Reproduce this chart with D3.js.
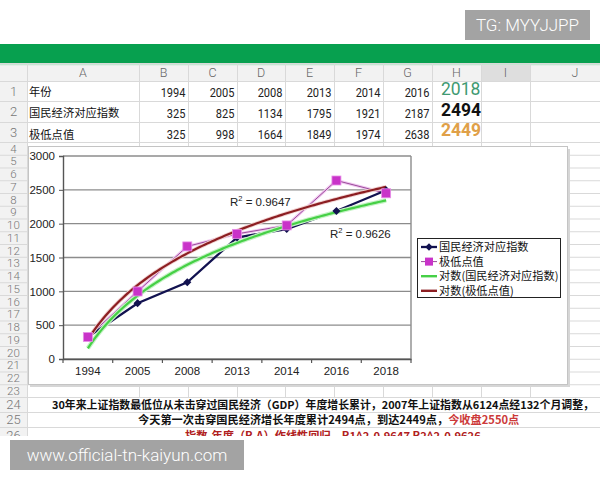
<!DOCTYPE html>
<html><head><meta charset="utf-8">
<script src="https://cdn.jsdelivr.net/npm/d3@7"></script>
<style>body{margin:0;background:#fff}svg{display:block}</style>
</head><body><svg id="c" width="600" height="480"></svg>
<script>
// ---------- data ----------
const years = ["1994","2005","2008","2013","2014","2016","2018"];
const gdpIndex = [325, 825, 1134, 1795, 1921, 2187, 2494];
const lowPoints = [325, 998, 1664, 1849, 1974, 2638, 2449];
const yTicks = [0, 500, 1000, 1500, 2000, 2500, 3000];
const colLetters = ["A","B","C","D","E","F","G","H","I","J"];
const rowLabels = ["年份", "国民经济对应指数", "极低点值"];
const seriesNames = ["国民经济对应指数", "极低点值", "对数(国民经济对应指数)", "对数(极低点值)"];
const r2Values = ["0.9647", "0.9626"];
const noteLine1 = "30年来上证指数最低位从未击穿过国民经济（GDP）年度增长累计，2007年上证指数从6124点经132个月调整，";
const noteLine2a = "今天第一次击穿国民经济增长年度累计2494点，到达2449点，";
const noteLine2b = "今收盘2550点";
const noteLine3 = "指数-年度（R.A）作线性回归，R1^2-0.9647 R2^2-0.9626";
const watermarkTop = "TG: MYYJJPP";
const watermarkBottom = "www.official-tn-kaiyun.com";

// ---------- layout ----------
const svg = d3.select("#c");
const CJK = "'Noto Sans CJK SC','Noto Sans',sans-serif";
const NUM = "'Roboto',sans-serif";
const colX = [0, 27, 139, 188, 237, 285, 334, 383, 432, 481, 530, 620];
const rowEdges = [63, 81, 101, 122, 142];
for (let n = 5; n <= 23; n++) rowEdges.push(142 + (n - 4) * 12.75);
rowEdges.push(397, 412, 427, 443);

svg.append("rect").attr("width", 600).attr("height", 480).attr("fill", "#fff");

// green toolbar
svg.append("rect").attr("x", 0).attr("y", 44).attr("width", 600).attr("height", 19).attr("fill", "#07a04f");
const grad = svg.append("defs").append("linearGradient").attr("id", "sh").attr("x1", 0).attr("y1", 0).attr("x2", 0).attr("y2", 1);
grad.append("stop").attr("offset", 0).attr("stop-color", "#9cd8b4");
grad.append("stop").attr("offset", 1).attr("stop-color", "#f2f2f2");

// header row + row header column
svg.append("rect").attr("x", 0).attr("y", 63).attr("width", 600).attr("height", 18).attr("fill", "#f2f2f2");
svg.append("rect").attr("x", 0).attr("y", 63).attr("width", 600).attr("height", 3).attr("fill", "url(#sh)");
svg.append("rect").attr("x", colX[9]).attr("y", 65).attr("width", colX[10] - colX[9]).attr("height", 16).attr("fill", "#dedede");
svg.append("rect").attr("x", 0).attr("y", 81).attr("width", 27).attr("height", 360).attr("fill", "#f2f2f2");

// grid lines
const grid = svg.append("g").attr("stroke", "#d9d9d9").attr("stroke-width", 1);
rowEdges.forEach(y => grid.append("line").attr("x1", 0).attr("x2", 600).attr("y1", y + 0.5).attr("y2", y + 0.5));
colX.slice(1, 11).forEach(x => grid.append("line").attr("x1", x + 0.5).attr("x2", x + 0.5).attr("y1", 63).attr("y2", 440));

// column letters
colLetters.forEach((c, i) => {
  svg.append("text").attr("x", (colX[i + 1] + colX[i + 2]) / 2).attr("y", 77)
    .attr("text-anchor", "middle").attr("font-family", "Roboto,sans-serif").attr("font-weight", 300)
    .attr("font-size", 12.5).attr("fill", "#666").text(c);
});

// row numbers
for (let k = 1; k <= 26; k++) {
  const top = rowEdges[k], bot = rowEdges[k + 1];
  const fs = k <= 3 || k >= 24 ? 13 : 11.5;
  svg.append("text").attr("x", 13.5).attr("y", (top + bot) / 2 + fs * 0.36)
    .attr("text-anchor", "middle").attr("font-family", "Roboto,sans-serif").attr("font-weight", 300)
    .attr("font-size", fs).attr("fill", "#777").text(k);
}

// table cells
const tableRows = [years, gdpIndex, lowPoints];
const cellY = [96.5, 117.5, 139];
tableRows.forEach((row, r) => {
  svg.append("text").attr("x", 29).attr("y", cellY[r] - 0.5).attr("font-family", CJK)
    .attr("font-size", 11.3).attr("fill", "#111").text(rowLabels[r]);
  row.forEach((v, i) => {
    if (i < row.length - 1) {
      svg.append("text").attr("transform", `translate(${colX[i + 3] - 2.5},${cellY[r]}) scale(0.82,1)`)
        .attr("text-anchor", "end")
        .attr("font-family", NUM).attr("font-size", 13.5).attr("fill", "#222").text(v);
    }
  });
});
const lastStyles = [{fill: "#3f9a72", w: 400}, {fill: "#111", w: 700}, {fill: "#e0a048", w: 700}];
tableRows.forEach((row, r) => {
  svg.append("text").attr("x", 441).attr("y", [95, 116, 136][r]).attr("font-family", "Roboto,sans-serif")
    .attr("font-size", 17.5).attr("font-weight", lastStyles[r].w).attr("fill", lastStyles[r].fill)
    .text(row[row.length - 1]);
});

// ---------- chart box ----------
svg.append("rect").attr("x", 30).attr("y", 149).attr("width", 540).attr("height", 238).attr("fill", "#d6d6d6");
svg.append("rect").attr("x", 28.5).attr("y", 146.5).attr("width", 539).attr("height", 238)
  .attr("fill", "#fff").attr("stroke", "#c4c4c4");

const plot = {l: 63, r: 411, t: 156, b: 359};
const x = d3.scaleBand().domain(years).range([plot.l, plot.r]).padding(0);
const y = d3.scaleLinear().domain([0, 3000]).range([plot.b, plot.t]);
const bw = x.bandwidth();
const cx = d => x(d) + bw / 2;

// gridlines
const g = svg.append("g");
g.selectAll(".gl").data(yTicks).join("line")
  .attr("x1", plot.l).attr("x2", plot.r).attr("y1", d => y(d)).attr("y2", d => y(d))
  .attr("stroke", "#8c8c8c").attr("stroke-width", 1.4);
g.append("line").attr("x1", plot.r).attr("x2", plot.r).attr("y1", plot.t).attr("y2", plot.b)
  .attr("stroke", "#8c8c8c").attr("stroke-width", 1.4);

// axes
const yAxis = svg.append("g").attr("transform", `translate(${plot.l},0)`)
  .call(d3.axisLeft(y).tickValues(yTicks).tickSize(4).tickPadding(4).tickFormat(d3.format("d")));
const xAxis = svg.append("g").attr("transform", `translate(0,${plot.b})`)
  .call(d3.axisBottom(x).tickSize(0).tickPadding(8));
[yAxis, xAxis].forEach(a => {
  a.select(".domain").attr("stroke", "#555").attr("stroke-width", 1.4);
  a.selectAll(".tick line").attr("stroke", "#555");
  a.selectAll("text").attr("font-family", "'Liberation Sans',Arial,sans-serif").attr("font-size", 11.5).attr("fill", "#222");
});
xAxis.selectAll(".tick text").attr("dy", "0.71em");
svg.append("g").selectAll("line").data(d3.range(years.length + 1)).join("line")
  .attr("x1", i => plot.l + i * bw).attr("x2", i => plot.l + i * bw)
  .attr("y1", plot.b).attr("y2", plot.b + 4).attr("stroke", "#555").attr("stroke-width", 1.2);

// log trendlines computed from the data (least squares on ln(index))
function logFit(vals) {
  const lx = vals.map((_, i) => Math.log(i + 1));
  const mx = d3.mean(lx), my = d3.mean(vals);
  let sxy = 0, sxx = 0;
  lx.forEach((l, i) => { sxy += (l - mx) * (vals[i] - my); sxx += (l - mx) ** 2; });
  const a = sxy / sxx, b = my - a * mx;
  return t => a * Math.log(t) + b;
}
const tSteps = d3.range(1, 7.001, 0.05);
const tx = t => plot.l + (t - 0.5) * bw;
const trendLine = f => d3.line()(tSteps.map(t => [tx(t), y(f(t))]));
const fitA = logFit(gdpIndex), fitB = logFit(lowPoints);

const line = d3.line().x((d, i) => cx(years[i])).y(d => y(d));

svg.append("path").attr("d", line(lowPoints)).attr("fill", "none").attr("stroke", "#f0c8f0").attr("stroke-width", 3);
svg.append("path").attr("d", line(lowPoints)).attr("fill", "none").attr("stroke", "#9a4a9a").attr("stroke-width", 1);
svg.append("path").attr("d", line(gdpIndex)).attr("fill", "none").attr("stroke", "#121250").attr("stroke-width", 2.3);

svg.append("path").attr("d", trendLine(fitA)).attr("fill", "none").attr("stroke", "#c4f2c4").attr("stroke-width", 4.5);
svg.append("path").attr("d", trendLine(fitA)).attr("fill", "none").attr("stroke", "#46d046").attr("stroke-width", 2.2);
svg.append("path").attr("d", trendLine(fitB)).attr("fill", "none").attr("stroke", "#f0d0d0").attr("stroke-width", 4);
svg.append("path").attr("d", trendLine(fitB)).attr("fill", "none").attr("stroke", "#8c1e22").attr("stroke-width", 2.2);

svg.append("g").selectAll("path").data(gdpIndex).join("path")
  .attr("d", d3.symbol(d3.symbolDiamond2, 42)())
  .attr("transform", (d, i) => `translate(${cx(years[i])},${y(d)})`).attr("fill", "#121250");
svg.append("g").selectAll("rect").data(lowPoints).join("rect")
  .attr("x", (d, i) => cx(years[i]) - 4.5).attr("y", d => y(d) - 4.5).attr("width", 9).attr("height", 9)
  .attr("fill", "#c933c9").attr("stroke", "#e890e8").attr("stroke-width", 0.8);

function r2(xp, yp, v) {
  const t = svg.append("text").attr("x", xp).attr("y", yp).attr("font-family", "'Liberation Sans',Arial,sans-serif")
    .attr("font-size", 11.5).attr("fill", "#222");
  t.append("tspan").text("R");
  t.append("tspan").attr("dy", -5).attr("font-size", 7.5).text("2");
  t.append("tspan").attr("dy", 5).text(" = " + v);
}
r2(230, 206, r2Values[0]);
r2(330, 238, r2Values[1]);

const lg = svg.append("g");
lg.append("rect").attr("x", 417.5).attr("y", 238.5).attr("width", 143).attr("height", 59)
  .attr("fill", "#fff").attr("stroke", "#222").attr("stroke-width", 1);
const legColors = ["#121250", "#9a4a9a", "#46d046", "#8c1e22"];
const legW = [2.3, 1, 2.4, 2.4];
seriesNames.forEach((s, i) => {
  const yy = 247 + i * 14.6;
  lg.append("line").attr("x1", 421).attr("x2", 437).attr("y1", yy).attr("y2", yy)
    .attr("stroke", legColors[i]).attr("stroke-width", legW[i]);
  if (i === 0) lg.append("path").attr("d", d3.symbol(d3.symbolDiamond2, 36)()).attr("transform", `translate(429,${yy})`).attr("fill", "#121250");
  if (i === 1) lg.append("rect").attr("x", 425).attr("y", yy - 4).attr("width", 8).attr("height", 8).attr("fill", "#c933c9");
  lg.append("text").attr("x", 439).attr("y", yy + 4).attr("font-family", CJK).attr("font-size", 11.2)
    .attr("fill", "#111").text(s);
});

// ---------- notes below chart ----------
svg.append("rect").attr("x", 28).attr("y", 398).attr("width", 600).attr("height", 40).attr("fill", "#fff");
[397, 412, 427].forEach(yy => svg.append("line").attr("x1", 0).attr("x2", 600).attr("y1", yy + 0.5).attr("y2", yy + 0.5).attr("stroke", "#d9d9d9"));
svg.append("text").attr("x", 323).attr("y", 408.5).attr("text-anchor", "middle").attr("font-family", CJK)
  .attr("font-size", 10.9).attr("font-weight", 700).attr("fill", "#111").text(noteLine1);
const t2 = svg.append("text").attr("x", 138).attr("y", 424).attr("font-family", CJK).attr("font-size", 11.2).attr("font-weight", 700);
t2.append("tspan").attr("fill", "#111").text(noteLine2a);
t2.append("tspan").attr("fill", "#cc3a3a").text(noteLine2b);
svg.append("text").attr("x", 185).attr("y", 440).attr("font-family", CJK).attr("font-size", 11.2).attr("font-weight", 700)
  .attr("fill", "#b02020").text(noteLine3);

// screenshot cut-off
svg.append("rect").attr("x", 0).attr("y", 436).attr("width", 600).attr("height", 44).attr("fill", "#fff");

// watermarks
svg.append("rect").attr("x", 465).attr("y", 10).attr("width", 125).attr("height", 30).attr("fill", "#a3a3a3");
svg.append("text").attr("x", 527.5).attr("y", 31).attr("text-anchor", "middle").attr("font-family", "Roboto,sans-serif")
  .attr("font-weight", 300).attr("font-size", 17).attr("fill", "#fff").text(watermarkTop);
svg.append("rect").attr("x", 10).attr("y", 440).attr("width", 234).attr("height", 30).attr("fill", "#a3a3a3");
svg.append("text").attr("x", 127).attr("y", 461).attr("text-anchor", "middle").attr("font-family", "Roboto,sans-serif")
  .attr("font-weight", 300).attr("font-size", 17).attr("fill", "#fff").text(watermarkBottom);
</script></body></html>
